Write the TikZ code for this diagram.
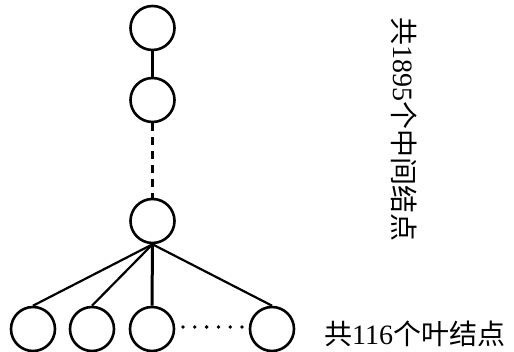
\documentclass[tikz,border=0pt]{standalone}
\usepackage{fontspec}
\newfontfamily\cjk{Noto Sans CJK SC}
\setmainfont{Liberation Serif}
\begin{document}
\begin{tikzpicture}[x=1pt,y=-1pt,
  nd/.style={circle,draw,line width=2.6pt,minimum size=44pt,inner sep=0pt},
  vedge/.style={line width=3pt},
  dedge/.style={line width=2.2pt},
  lbl/.style={font=\fontsize{28}{30}\selectfont,inner sep=0pt}]
\useasboundingbox (0,0) rectangle (514,352);
\node[nd] (n1) at (152.5,28) {};
\node[nd] (n2) at (152.5,100) {};
\node[nd] (n3) at (152.5,221) {};
\node[nd] (l1) at (33,329) {};
\node[nd] (l2) at (92,329) {};
\node[nd] (l3) at (152,329) {};
\node[nd] (l4) at (272,329) {};
\draw[vedge] (n1) -- (n2);
\draw[vedge,dash pattern=on 8pt off 6pt] (n2) -- (n3);
\draw[dedge] (n3.south) -- (l1.north);
\draw[dedge] (n3.south) -- (l2.north);
\draw[vedge] (n3.south) -- (l3.north);
\draw[dedge] (n3.south) -- (l4.north);
\foreach \i in {0,...,5} \fill (183+\i*11.8,327) circle (1.9pt);
\node[lbl,rotate=-90] (t1) at (404,130) {{\cjk 共}1895{\cjk 个中间结点}};
\node[lbl,anchor=west] (t2) at (324,334) {{\cjk 共}116{\cjk 个叶结点}};
\end{tikzpicture}
\end{document}
